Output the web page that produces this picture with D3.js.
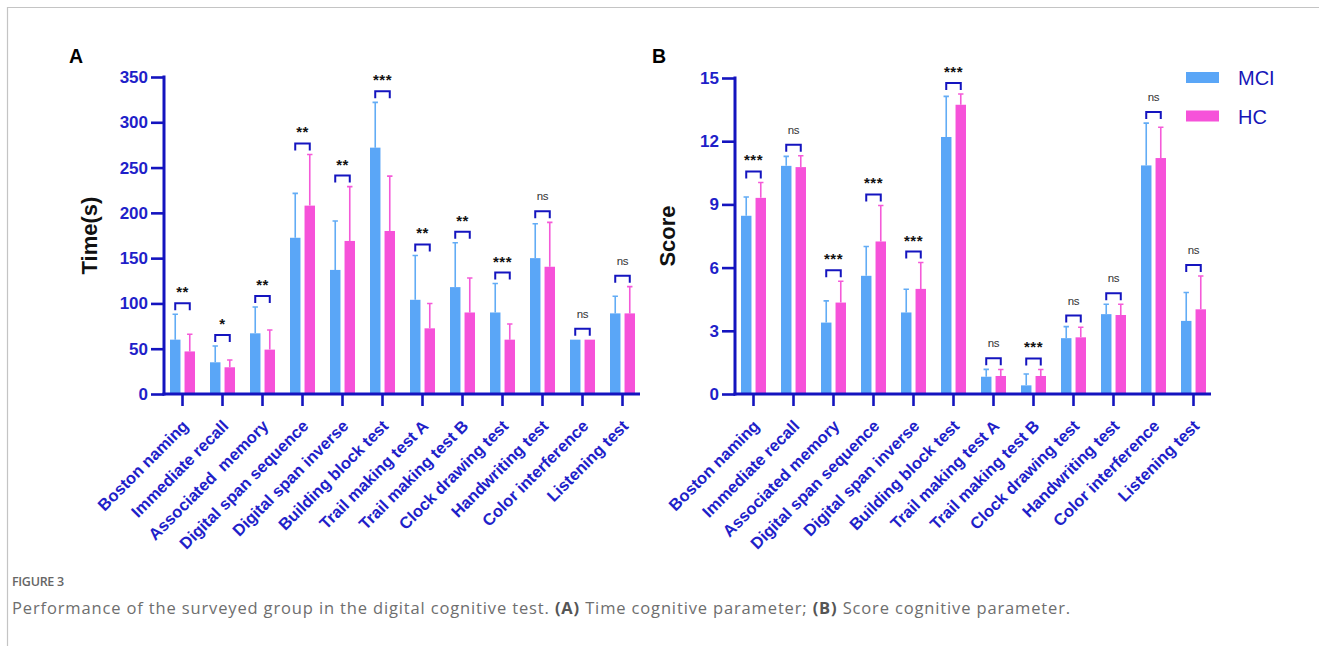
<!DOCTYPE html>
<html><head><meta charset="utf-8">
<script src="https://cdn.jsdelivr.net/npm/d3@7"></script>
<style>
html,body{margin:0;padding:0;background:#fff;}
svg{display:block;}
</style></head>
<body>
<svg id="chart" width="1319" height="646"></svg>
<script>
// ---------- data ----------
const categoriesA = ["Boston naming","Immediate recall","Associated  memory","Digital span sequence","Digital span inverse","Building block test","Trail making test A","Trail making test B","Clock drawing test","Handwriting test","Color interference","Listening test"];
const categoriesB = ["Boston naming","Immediate recall","Associated memory","Digital span sequence","Digital span inverse","Building block test","Trail making test A","Trail making test B","Clock drawing test","Handwriting test","Color interference","Listening test"];
const groups = ["MCI","HC"];

const timeMCI   = [60, 35, 67, 172.5, 137, 272, 104, 118, 90, 150, 60, 89];
const timeMCIsd = [28, 18, 29, 49, 54, 50, 49, 49, 32, 38, 0, 19];
const timeHC    = [47, 29.5, 49, 208, 169, 180, 72.5, 90, 60, 140.5, 60, 89];
const timeHCsd  = [19, 8, 21.6, 56.5, 60, 60.6, 27.5, 38, 17.3, 49, 0, 29.5];
const timeSig   = ["**","*","**","**","**","***","**","**","***","ns","ns","ns"];
const timeTicks = [0, 50, 100, 150, 200, 250, 300, 350];

const scoreMCI   = [8.46, 10.83, 3.39, 5.61, 3.87, 12.2, 0.82, 0.41, 2.65, 3.79, 10.85, 3.47];
const scoreMCIsd = [0.89, 0.45, 1.03, 1.39, 1.10, 1.93, 0.35, 0.54, 0.55, 0.47, 2.01, 1.35];
const scoreHC    = [9.31, 10.77, 4.34, 7.24, 4.99, 13.73, 0.855, 0.855, 2.69, 3.75, 11.2, 4.02];
const scoreHCsd  = [0.73, 0.54, 1.01, 1.71, 1.25, 0.51, 0.31, 0.31, 0.48, 0.51, 1.46, 1.58];
const scoreSig   = ["***","ns","***","***","***","***","ns","***","ns","ns","ns","ns"];
const scoreTicks = [0, 3, 6, 9, 12, 15];

// ---------- styles ----------
const AXIS = "#1414bf";
const TICKTXT = "#1f1fc9";
const COL = {MCI: "#5aa6f7", HC: "#f652d9"};
const ERRCOL = {MCI: "#62acf5", HC: "#f55ad8"};
const FONT = "Liberation Sans, Arial, sans-serif";

const svg = d3.select("#chart");
svg.append("rect").attr("width",1319).attr("height",646).attr("fill","#fff");
// frame
svg.append("path").attr("d","M7.5,646 V7.5 H1319").attr("fill","none").attr("stroke","#c4c4c4").attr("stroke-width",1.2);

function panel(o){
  const g = svg.append("g");
  const x = d3.scaleBand().domain(o.cats).range([o.ax - 1.5, o.ax - 1.5 + 480]);
  const y = d3.scaleLinear().domain([0, o.max]).range([394, o.top]);
  const xs = d3.scaleBand().domain(groups).range([-12.5, 12.5]).paddingInner(0.28);

  const rows = o.cats.map((c,i)=>({c, i,
    vals:[{g:"MCI", v:o.mci[i], sd:o.mciSd[i]},{g:"HC", v:o.hc[i], sd:o.hcSd[i]}],
    sig:o.sig[i]}));

  const grp = g.selectAll("g.cat").data(rows).join("g")
    .attr("transform", d=>`translate(${x(d.c)+x.bandwidth()/2},0)`);

  // bars
  grp.selectAll("rect.bar").data(d=>d.vals).join("rect")
    .attr("x", d=>xs(d.g)).attr("width", xs.bandwidth())
    .attr("y", d=>y(d.v)).attr("height", d=>394 - y(d.v))
    .attr("fill", d=>COL[d.g]);
  // error bars
  grp.selectAll("path.err").data(d=>d.vals.filter(v=>v.sd>0)).join("path")
    .attr("d", d=>{const cx = xs(d.g)+xs.bandwidth()/2; const t=y(d.v+d.sd);
      return `M${cx},${y(d.v)}V${t}M${cx-2.7},${t}H${cx+2.7}`;})
    .attr("fill","none").attr("stroke", d=>ERRCOL[d.g]).attr("stroke-width",1.6);

  // brackets
  grp.each(function(d){
    const gg = d3.select(this);
    const topv = Math.max(d.vals[0].v + d.vals[0].sd, d.vals[1].v + d.vals[1].sd);
    const by = y(topv) - 11;
    const x1 = xs("MCI")+xs.bandwidth()/2, x2 = xs("HC")+xs.bandwidth()/2;
    gg.append("path").attr("d",`M${x1},${by+7}V${by}H${x2}V${by+7}`)
      .attr("fill","none").attr("stroke",AXIS).attr("stroke-width",2);
    if(d.sig==="ns"){
      gg.append("text").attr("x",(x1+x2)/2).attr("y",by-11).attr("text-anchor","middle")
        .attr("font-family",FONT).attr("font-size",11.5)
        .attr("fill","#333").attr("letter-spacing","-0.3").text(d.sig);
    } else {
      gg.append("text").attr("x",(x1+x2)/2).attr("y",by-6).attr("text-anchor","middle")
        .attr("font-family",FONT).attr("font-weight","bold").attr("font-size",15)
        .attr("fill","#111").attr("letter-spacing","0.5").text(d.sig);
    }
  });

  // y axis
  const yAx = g.append("g").attr("transform",`translate(${o.ax},0)`)
    .call(d3.axisLeft(y).tickValues(o.ticks).tickSize(13).tickPadding(3));
  // x axis
  const xAx = g.append("g").attr("transform",`translate(0,394)`)
    .call(d3.axisBottom(x).tickSize(12).tickFormat(""));
  xAx.select(".domain").remove();
  xAx.append("line").attr("x1",o.ax-1.5).attr("x2",o.ax+476).attr("y1",0).attr("y2",0)
    .attr("stroke",AXIS).attr("stroke-width",3);
  [yAx, xAx].forEach(a=>{
    a.selectAll(".domain").attr("stroke",AXIS).attr("stroke-width",3);
    a.selectAll(".tick line").attr("stroke",AXIS).attr("stroke-width",2.6);
  });
  yAx.select(".domain").attr("d",`M0,${o.top-1.5}V395.5`);
  yAx.selectAll(".tick text").attr("fill",TICKTXT).attr("font-size",17).attr("font-weight","bold")
    .attr("font-family",FONT);

  // x labels
  g.append("g").selectAll("text").data(o.cats).join("text")
    .attr("transform", d=>`translate(${x(d)+x.bandwidth()/2+7},${394+33}) rotate(-45)`)
    .attr("text-anchor","end").attr("fill",TICKTXT).attr("font-weight","bold").attr("font-size",16.5)
    .attr("font-family",FONT).style("white-space","pre").text(d=>d);

  // y title
  g.append("text").attr("transform",`translate(${o.ax-o.titleOff},${(394+o.top)/2}) rotate(-90)`)
    .attr("text-anchor","middle").attr("font-family",FONT)
    .attr("font-weight","bold").attr("font-size",22).attr("fill","#111").text(o.title);
  // panel letter
  g.append("text").attr("x",o.letterX).attr("y",63).attr("font-family",FONT)
    .attr("font-weight","bold").attr("font-size",19.5).attr("fill","#000").text(o.letter);
}

panel({cats:categoriesA, mci:timeMCI, mciSd:timeMCIsd, hc:timeHC, hcSd:timeHCsd, sig:timeSig,
  ticks:timeTicks, max:350, top:77, ax:164, title:"Time(s)", titleOff:67, letter:"A", letterX:69});
panel({cats:categoriesB, mci:scoreMCI, mciSd:scoreMCIsd, hc:scoreHC, hcSd:scoreHCsd, sig:scoreSig,
  ticks:scoreTicks, max:15, top:78, ax:735, title:"Score", titleOff:60, letter:"B", letterX:652});

// legend
const lg = svg.append("g").selectAll("g").data(groups).join("g")
  .attr("transform",(d,i)=>`translate(1186,${72 + i*38.5})`);
lg.append("rect").attr("width",33).attr("height",11).attr("fill",d=>COL[d]);
lg.append("text").attr("x",52).attr("y",13).attr("font-family",FONT)
  .attr("font-size",20).attr("fill","#1616b8").text(d=>d);

// caption
const CAPFONT = "'Open Sans', Lato, sans-serif";
svg.append("text").attr("x",12).attr("y",586).attr("font-family",CAPFONT)
  .attr("font-size",12.5).attr("font-weight",600).attr("fill","#666").attr("letter-spacing",-0.3).text("FIGURE 3");
const cap = svg.append("text").attr("x",12).attr("y",614).attr("font-family",CAPFONT)
  .attr("font-size",16.5).attr("fill","#6e6e6e");
cap.append("tspan").text("Performance of the surveyed group in the digital cognitive test. ");
cap.append("tspan").attr("font-weight","bold").attr("fill","#555").text("(A)");
cap.append("tspan").text(" Time cognitive parameter; ");
cap.append("tspan").attr("font-weight","bold").attr("fill","#555").text("(B)");
cap.append("tspan").text(" Score cognitive parameter.");
const capStr = "Performance of the surveyed group in the digital cognitive test. (A) Time cognitive parameter; (B) Score cognitive parameter.";
const w = cap.node().getComputedTextLength();
cap.attr("letter-spacing", (1059 - w)/capStr.length);
</script>
</body></html>
